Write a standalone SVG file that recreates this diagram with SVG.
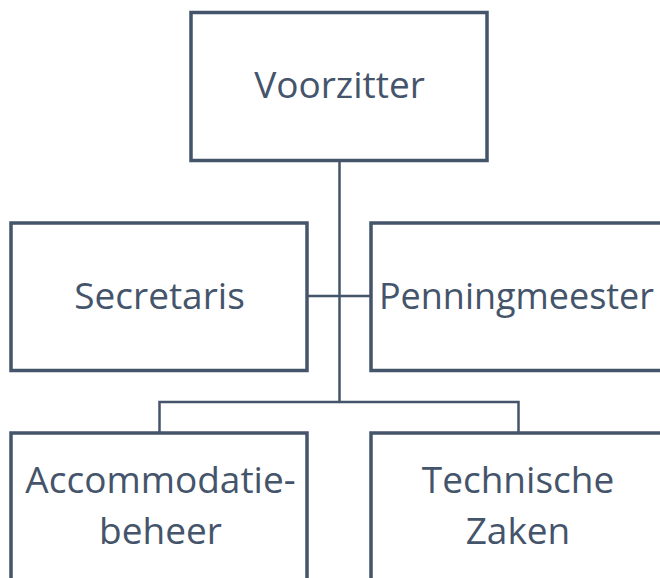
<svg xmlns="http://www.w3.org/2000/svg" width="660" height="578" viewBox="0 0 660 578">
<style>
.box{fill:#ffffff;stroke:#44546A;stroke-width:3.5}
.conn{fill:none;stroke:#44546A;stroke-width:2.5}
.lbl{font-family:"Open Sans","Noto Sans",sans-serif;font-size:37px;fill:#44546A;text-anchor:middle}
</style>
<rect width="660" height="578" fill="#ffffff"/>
<g id="connectors">
<path class="conn" d="M339.5 160.5 V402"/>
<path class="conn" d="M307 296 H371"/>
<path class="conn" d="M159.5 433 V402 H518.5 V433"/>
</g>
<g id="voorzitter">
<rect class="box" x="191" y="12.5" width="296" height="148"/>
<text class="lbl" x="339.5" y="98">Voorzitter</text>
</g>
<g id="secretaris">
<rect class="box" x="11" y="223" width="296" height="147.5"/>
<text class="lbl" x="159.5" y="309">Secretaris</text>
</g>
<g id="penningmeester">
<rect class="box" x="371" y="223" width="296" height="147.5"/>
<text class="lbl" x="516.5" y="309" textLength="275" lengthAdjust="spacingAndGlyphs">Penningmeester</text>
</g>
<g id="accommodatiebeheer">
<rect class="box" x="11" y="433" width="296" height="160"/>
<text class="lbl" x="160.5" y="493">Accommodatie-</text>
<text class="lbl" x="160.5" y="543.5">beheer</text>
</g>
<g id="technische-zaken">
<rect class="box" x="371" y="433" width="296" height="160"/>
<text class="lbl" x="518" y="493">Technische</text>
<text class="lbl" x="518" y="543.5">Zaken</text>
</g>
</svg>
